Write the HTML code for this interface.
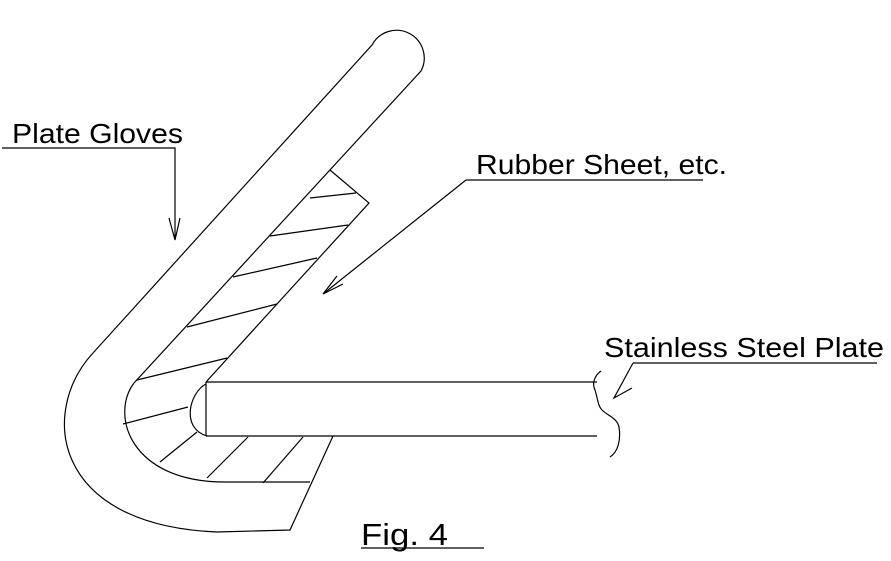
<!DOCTYPE html>
<html><head><meta charset="utf-8"><style>html,body{margin:0;padding:0;background:#fff}svg{display:block}</style></head>
<body>
<svg width="891" height="561" viewBox="0 0 891 561" xmlns="http://www.w3.org/2000/svg">
<g fill="none" stroke="#000" stroke-width="1.2">
<!-- glove -->
<path d="M93,353 L372,45 A27,27 0 0 1 421,71 L134,383"/>
<path d="M93,353 C40,410 50,525 217,532 L290,530 L333,436"/>
<path d="M134,383 C110,415 130,482 225,482 L310,482"/>
<!-- rubber -->
<path d="M330,170 L369,203 L206,382"/>
<path d="M310,198 L356,193 M270,236 L348,225 M233,277 L317,258 M187,327 L277,304 M137,380 L227,358"/>
<path d="M123,424 L188,407 M160,462 L197,432 M207,478 L248,437 M263,483 L303,437"/>
<!-- plate -->
<path d="M206,382 L597,382 M206,436 L597,436 M206,382 L206,436"/>
<path d="M206,384 C190,392 180,428 207,436"/>
<path d="M601,371 C594,376 592,384 595,390 C598,400 598,406 602,410 C608,416 617,418 619,427 C621,440 618,452 610,457"/>
<!-- leaders -->
<path d="M2,148 L175,148 L175,240 M169,218 L175,240 L180,218"/>
<path d="M466,180 L703,180 M466,180 L323,294 M337,276 L323,294 L343,284"/>
<path d="M633,363 L877,363 M633,363 L614,398 L632,388"/>
<path d="M361,548 L484,548"/>
</g>
<g font-family="Liberation Sans, sans-serif" fill="#000">
<text x="12" y="143" font-size="28" textLength="171" lengthAdjust="spacingAndGlyphs">Plate Gloves</text>
<text x="476" y="174" font-size="28" textLength="251" lengthAdjust="spacingAndGlyphs">Rubber Sheet, etc.</text>
<text x="604" y="357" font-size="28" textLength="280" lengthAdjust="spacingAndGlyphs">Stainless Steel Plate</text>
<text x="361" y="545" font-size="31" textLength="87" lengthAdjust="spacingAndGlyphs">Fig. 4</text>
</g>
</svg>
</body></html>
